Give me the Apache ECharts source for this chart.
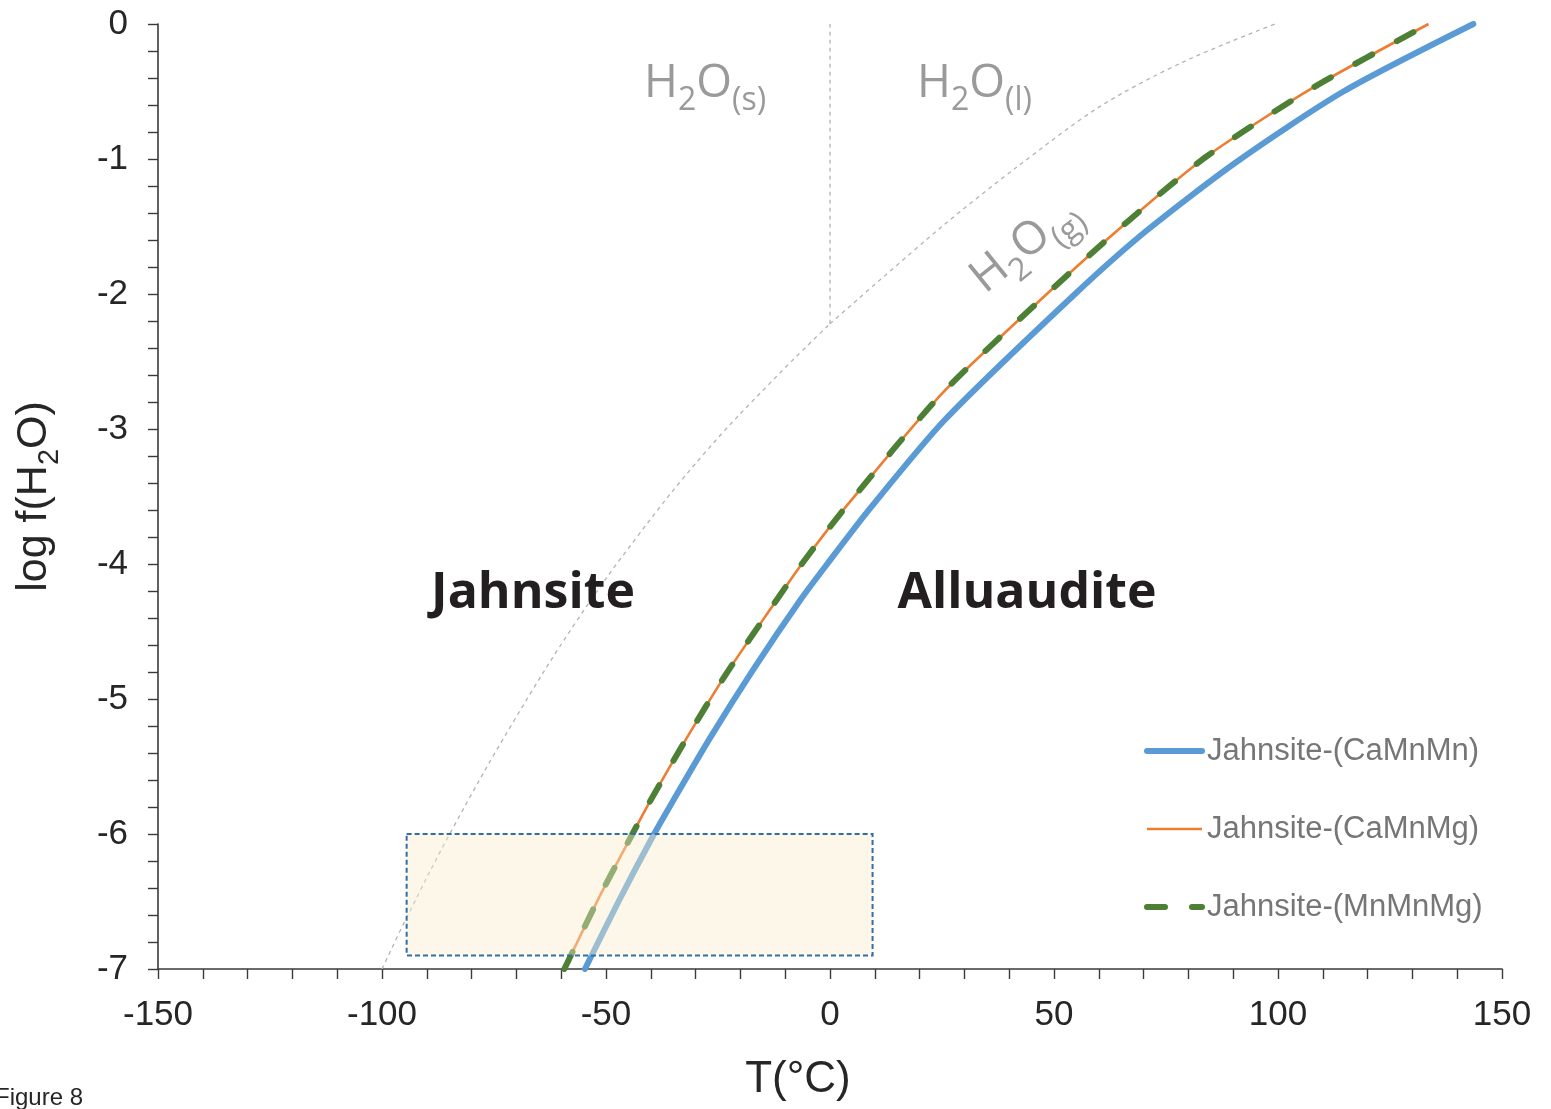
<!DOCTYPE html>
<html>
<head>
<meta charset="utf-8">
<title>Jahnsite – Alluaudite stability</title>
<script src="https://cdn.jsdelivr.net/npm/echarts@6/dist/echarts.min.js"></script>
<style>
  html, body { margin: 0; padding: 0; background: #ffffff; }
  #chart { width: 1551px; height: 1109px; }
</style>
</head>
<body>
<div id="chart"></div>
<script>
// Temperature (°C) and log f(H2O) along each Jahnsite → Alluaudite boundary
const caMnMnT    = [-54.7, -47.2, -39.6, -35.3, -26.8, -17.1, -6.7, -0.4, 8.9, 25.7, 54.7, 70.7, 90.8, 114.6, 143.6];
const caMnMnLogf = [-7.0, -6.50, -6.02, -5.77, -5.29, -4.78, -4.27, -3.99, -3.59, -2.93, -2.0, -1.53, -1.02, -0.50, 0.0];

const caMnMgT    = [-59.3, -51.7, -44.1, -40.2, -32.0, -23.1, -12.6, -6.3, 3.7, 25.2, 48.4, 66.2, 84.1, 107.9, 133.6];
const caMnMgLogf = [-7.0, -6.48, -6.0, -5.76, -5.29, -4.81, -4.30, -4.0, -3.57, -2.73, -2.0, -1.47, -0.98, -0.47, 0.0];

const mnMnMgT    = [-59.3, -51.7, -44.1, -40.2, -32.0, -23.1, -12.6, -6.3, 3.7, 25.2, 48.4, 66.2, 84.1, 107.9, 133.6];
const mnMnMgLogf = [-7.0, -6.48, -6.0, -5.76, -5.29, -4.81, -4.30, -4.0, -3.57, -2.73, -2.0, -1.47, -0.98, -0.47, 0.0];

// Water phase boundaries: ice/vapour, liquid/vapour and ice/liquid
const iceVapT    = [-100, -94.5, -84.4, -70.7, -56.5, -43.1, -28.3, -13.4, 0];
const iceVapLogf = [-7.0, -6.62, -5.97, -5.17, -4.42, -3.80, -3.19, -2.66, -2.22];
const liqVapT    = [0, 25, 41.7, 60.3, 78.9, 99.3];
const liqVapLogf = [-2.22, -1.50, -1.06, -0.61, -0.28, 0.0];
const iceLiqT    = [0, 0];
const iceLiqLogf = [-2.22, 0.0];

// Shaded window of conditions (T range, log f range)
const windowT    = [-94.5, 9.5];
const windowLogf = [-6.9, -6.0];

// Axes
const xTicks = { min: -150, max: 150, step: 50 };
const yTicks = { min: -7, max: 0, step: 1 };

const seriesNames = ['Jahnsite-(CaMnMn)', 'Jahnsite-(CaMnMg)', 'Jahnsite-(MnMnMg)'];

const pairs = (xs, ys) => xs.map((x, i) => [x, ys[i]]);

const SANS = "'Liberation Sans', Arial, sans-serif";
const LABEL_FONT = "'Open Sans', 'Noto Sans', sans-serif";
const GREY_TXT = '#9a9a9a';
const BLUE = '#5b9bd5', ORANGE = '#ed7d31', GREEN = '#4d7f34';

const chart = echarts.init(document.getElementById('chart'), null, { renderer: 'canvas' });

const phaseLine = {
  type: 'line', symbol: 'none', silent: true, z: 1,
  lineStyle: { color: '#b3b3b3', width: 1.3, type: [4, 4] }
};

// Chemical formula text with subscripts, drawn as rich text
function formula(parts, size, subSize, color, drop) {
  const text = parts.map(p => (p.sub ? '{s|' : '{m|') + p.t + '}').join('');
  return {
    text,
    rich: {
      m: { fontSize: size, fontFamily: LABEL_FONT, fill: color, lineHeight: size + 4 },
      s: { fontSize: subSize, fontFamily: LABEL_FONT, fill: color, lineHeight: subSize, padding: [drop, 0, 0, 0] }
    }
  };
}

const option = {
  backgroundColor: '#ffffff',
  animation: false,
  grid: { left: 158, right: 49, top: 24, bottom: 140, containLabel: false, outerBoundsMode: 'none' },
  xAxis: {
    type: 'value',
    min: xTicks.min, max: xTicks.max, interval: xTicks.step,
    axisLine: { onZero: false, lineStyle: { color: '#3a3a3a', width: 1.6 } },
    axisTick: { show: true, length: 10, lineStyle: { color: '#3a3a3a', width: 1.4 } },
    minorTick: { show: true, splitNumber: 5, length: 10, lineStyle: { color: '#3a3a3a', width: 1.4 } },
    splitLine: { show: false },
    axisLabel: { fontSize: 35, color: '#262626', fontFamily: SANS, margin: 29 }
  },
  yAxis: {
    type: 'value',
    min: yTicks.min, max: yTicks.max, interval: yTicks.step,
    axisLine: { show: true, onZero: false, lineStyle: { color: '#3a3a3a', width: 1.6 } },
    axisTick: { show: true, length: 10, lineStyle: { color: '#3a3a3a', width: 1.4 } },
    minorTick: { show: true, splitNumber: 5, length: 10, lineStyle: { color: '#3a3a3a', width: 1.4 } },
    splitLine: { show: false },
    axisLabel: { fontSize: 35, color: '#262626', fontFamily: SANS, margin: 30 },
    name: '{a|log f(H}{b|2}{a|O)}',
    nameLocation: 'middle',
    nameGap: 100,
    nameTextStyle: {
      rich: {
        a: { fontSize: 43, fontFamily: SANS, color: '#262626', lineHeight: 47 },
        b: { fontSize: 29, fontFamily: SANS, color: '#262626', lineHeight: 29, padding: [30, 0, 0, 0] }
      }
    }
  },
  legend: {
    data: [
      { name: seriesNames[0], itemStyle: { opacity: 0 }, lineStyle: { width: 6, cap: 'round' } },
      { name: seriesNames[1], itemStyle: { opacity: 0 }, lineStyle: { width: 2.6 } },
      { name: seriesNames[2], itemStyle: { opacity: 0 }, lineStyle: { width: 6, cap: 'round', type: [18, 27] } }
    ],
    orient: 'vertical',
    left: 1144, top: 735, padding: 0,
    itemWidth: 55, itemHeight: 14, itemGap: 46,
    textStyle: { fontSize: 31, color: '#767676', fontFamily: SANS, lineHeight: 32 }
  },
  series: [
    Object.assign({ name: 'ice-vapour', data: pairs(iceVapT, iceVapLogf), smooth: 0.4 }, phaseLine),
    Object.assign({ name: 'liquid-vapour', data: pairs(liqVapT, liqVapLogf), smooth: 0.3 }, phaseLine),
    Object.assign({ name: 'ice-liquid', data: pairs(iceLiqT, iceLiqLogf) }, phaseLine),
    {
      name: seriesNames[0], type: 'line', symbol: 'none', smooth: 0.25, z: 3,
      data: pairs(caMnMnT, caMnMnLogf),
      itemStyle: { color: BLUE },
      lineStyle: { color: BLUE, width: 6, cap: 'round' }
    },
    {
      name: seriesNames[1], type: 'line', symbol: 'none', smooth: 0.25, z: 4,
      data: pairs(caMnMgT, caMnMgLogf),
      itemStyle: { color: ORANGE },
      lineStyle: { color: ORANGE, width: 2.6 }
    },
    {
      name: seriesNames[2], type: 'line', symbol: 'none', smooth: 0.25, z: 5,
      data: pairs(mnMnMgT, mnMnMgLogf),
      itemStyle: { color: GREEN },
      lineStyle: { color: GREEN, width: 6, type: [19, 28], cap: 'round' }
    },
    {
      name: 'window', type: 'custom', silent: true, z: 10,
      data: [[windowT[0], windowLogf[0], windowT[1], windowLogf[1]]],
      encode: { x: [0, 2], y: [1, 3] },
      renderItem: function (params, api) {
        const a = api.coord([api.value(0), api.value(3)]);
        const b = api.coord([api.value(2), api.value(1)]);
        return {
          type: 'rect',
          shape: { x: a[0], y: a[1], width: b[0] - a[0], height: b[1] - a[1] },
          style: { fill: 'rgba(251, 236, 204, 0.42)', stroke: '#2f6ea6', lineWidth: 2, lineDash: [5, 3] }
        };
      }
    }
  ],
  graphic: [
    // phase-field labels for water
    { type: 'text', left: 644, top: 51, z: 20, style: formula([{ t: 'H' }, { t: '2', sub: 1 }, { t: 'O' }, { t: '(s)', sub: 1 }], 46, 32, GREY_TXT, 34) },
    { type: 'text', left: 917, top: 51, z: 20, style: formula([{ t: 'H' }, { t: '2', sub: 1 }, { t: 'O' }, { t: '(l)', sub: 1 }], 46, 32, GREY_TXT, 34) },
    {
      type: 'text', x: 1025, y: 245, rotation: 39 * Math.PI / 180, z: 20,
      style: Object.assign(formula([{ t: 'H' }, { t: '2', sub: 1 }, { t: 'O' }, { t: '(g)', sub: 1 }], 46, 32, GREY_TXT, 34), { align: 'center', verticalAlign: 'middle' })
    },
    // stability fields
    { type: 'text', x: 533, y: 594, z: 20, style: { text: 'Jahnsite', font: "bold 50px 'Open Sans', sans-serif", fill: '#231f20', align: 'center', verticalAlign: 'middle' } },
    { type: 'text', x: 1027, y: 594, z: 20, style: { text: 'Alluaudite', font: "bold 50px 'Open Sans', sans-serif", fill: '#231f20', align: 'center', verticalAlign: 'middle' } },
    // x-axis title and figure tag
    { type: 'text', x: 798, y: 1080, z: 20, style: { text: 'T(°C)', font: "44px 'Liberation Sans', Arial, sans-serif", fill: '#262626', align: 'center', verticalAlign: 'middle' } },
    { type: 'text', x: -5, y: 1098, z: 20, style: { text: 'Figure 8', font: "24px 'Liberation Sans', Arial, sans-serif", fill: '#262626', align: 'left', verticalAlign: 'middle' } }
  ]
};

chart.setOption(option);
</script>
</body>
</html>
